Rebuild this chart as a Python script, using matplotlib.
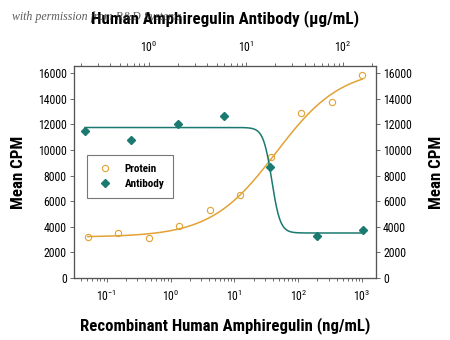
import numpy as np
import matplotlib
matplotlib.use("Agg")
import matplotlib.pyplot as plt
from matplotlib import font_manager as fm
from matplotlib.ticker import LogLocator, FixedLocator

# Recombinant protein dose response (ng/mL, bottom axis)
protein_conc = [0.0508, 0.152, 0.457, 1.37, 4.12, 12.3, 37.0, 111, 333, 1000]
protein_cpm = [3230, 3490, 3150, 4070, 5280, 6510, 9450, 12910, 13750, 15830]

# Neutralizing antibody titration (ug/mL, top axis)
antibody_conc = [0.22, 0.66, 2.0, 5.9, 17.8, 53.5, 160]
antibody_cpm = [11500, 10810, 12050, 12620, 8660, 3310, 3750]

# Four-parameter logistic fits (response at low dose -> response at high dose)
protein_fit = dict(start=3200, end=16400, ec50=45.0, hill=0.85)
antibody_fit = dict(start=11750, end=3520, ec50=18.4, hill=10.0)

y_ticks = [0, 2000, 4000, 6000, 8000, 10000, 12000, 14000, 16000]

orange = '#E2A234'
teal = '#1A7A70'


def logistic(x, start, end, ec50, hill):
    x = np.asarray(x, dtype=float)
    return start + (end - start) / (1.0 + (ec50 / x) ** hill)


def pick_narrow_font():
    fonts = fm.fontManager.ttflist
    names = {f.name for f in fonts}
    for name in ('Liberation Sans Narrow', 'Roboto Condensed', 'Open Sans Condensed',
                 'Noto Sans Condensed', 'DejaVu Sans Condensed'):
        if name in names:
            return name, 'normal'
    for name in ('Noto Sans', 'Open Sans', 'Roboto', 'DejaVu Sans'):
        for f in fonts:
            if f.name == name and str(f.stretch) in ('condensed', 'semi-condensed',
                                                     'extra-condensed'):
                return name, 'condensed'
    return 'DejaVu Sans', 'normal'


family, stretch = pick_narrow_font()
plt.rcParams['font.family'] = [family, 'DejaVu Sans']
plt.rcParams['font.stretch'] = stretch
plt.rcParams['mathtext.default'] = 'regular'

fig = plt.figure(figsize=(4.5, 3.4), dpi=100)
ax = fig.add_axes([0.164, 0.182, 0.672, 0.624])
ax.set_xscale('log')
ax.set_xlim(10 ** -1.514, 10 ** 3.22)
ax.set_ylim(0, 16550)

xs = np.logspace(np.log10(protein_conc[0]), np.log10(protein_conc[-1]), 300)
ax.plot(xs, logistic(xs, **protein_fit), color=orange, lw=1.1, zorder=2)
ax.plot(protein_conc, protein_cpm, 'o', mfc='none', mec=orange, ms=4.5,
        mew=0.8, zorder=3, label='Protein')

ax2 = ax.twiny()
ax2.set_xscale('log')
ax2.set_xlim(10 ** -0.773, 10 ** 2.34)
xa = np.logspace(np.log10(antibody_conc[0]), np.log10(antibody_conc[-1]), 800)
ax2.plot(xa, logistic(xa, **antibody_fit), color=teal, lw=1.1, zorder=2)
ax2.plot(antibody_conc, antibody_cpm, 'D', color=teal, ms=4, zorder=3,
         label='Antibody')

ax3 = ax.twinx()
ax3.set_ylim(ax.get_ylim())

for a in (ax, ax3):
    a.yaxis.set_major_locator(FixedLocator(y_ticks))
ax.set_yticklabels([str(v) for v in y_ticks])
ax3.set_yticklabels([str(v) for v in y_ticks])

for a in (ax, ax2, ax3):
    a.tick_params(which='both', direction='out', labelsize=8.5, width=0.6,
                  color='#555555', pad=2)
    a.tick_params(which='major', length=3)
    a.tick_params(which='minor', length=2)
    for s in a.spines.values():
        s.set_color('#555555')
        s.set_linewidth(0.8)

ax.xaxis.set_minor_locator(LogLocator(base=10, subs=np.arange(2, 10), numticks=20))
ax2.xaxis.set_minor_locator(LogLocator(base=10, subs=np.arange(2, 10), numticks=20))
ax.tick_params(axis='x', pad=5)
ax2.tick_params(axis='x', pad=5)

label_font = dict(fontsize=12.5, fontweight='bold')
xl = ax.set_xlabel('Recombinant Human Amphiregulin (ng/mL)', labelpad=9, **label_font)
yl = ax.set_ylabel('Mean CPM', labelpad=8.5, **label_font)
yr = ax3.set_ylabel('Mean CPM', rotation=90, labelpad=12, **label_font)
tl = ax2.set_xlabel('Human Amphiregulin Antibody (\u03bcg/mL)', labelpad=12,
                    fontsize=12.5, fontweight='bold')

h1, l1 = ax.get_legend_handles_labels()
h2, l2 = ax2.get_legend_handles_labels()
leg = ax2.legend(h1 + h2, l1 + l2, loc='upper left',
                 bbox_to_anchor=(0.043, 0.58), borderaxespad=0,
                 frameon=True, fancybox=False,
                 prop=dict(size=8, weight='bold'), handletextpad=1.0,
                 borderpad=0.8, labelspacing=0.45, handlelength=1.6)
leg.get_frame().set_edgecolor('#555555')
leg.get_frame().set_linewidth(0.8)

fig.text(0.027, 0.95, 'with permission from R&D Systems', family='Liberation Serif',
         style='italic', fontsize=8.6, color='#333333', alpha=0.8, va='center')

# Scale the axis titles so their lengths suit the plot frame
renderer = fig.canvas.get_renderer()
for txt, target, along_y in ((xl, 292, False), (tl, 268, False),
                             (yl, 73, True), (yr, 73, True)):
    bb = txt.get_window_extent(renderer)
    size = bb.height if along_y else bb.width
    txt.set_fontsize(txt.get_fontsize() * target / size)

fig.savefig('out.png', dpi=100)
